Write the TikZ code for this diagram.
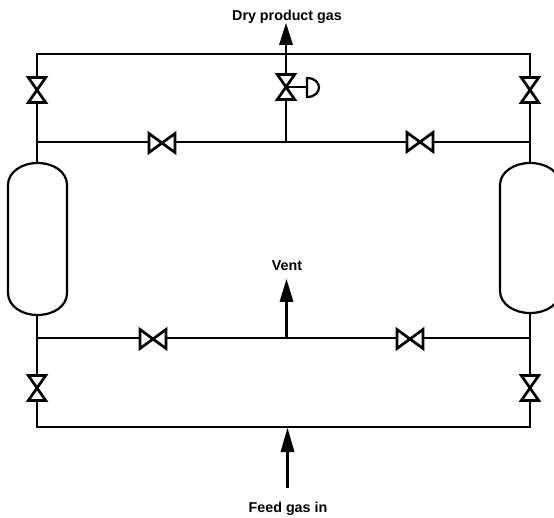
\documentclass[tikz,border=0pt]{standalone}
\usepackage{fontspec}
\setmainfont{Liberation Sans}
\begin{document}
\begin{tikzpicture}[x=1pt,y=-1pt,
  pipe/.style={line width=2.2pt,line join=miter},
  vesselline/.style={line width=2.2pt},
  bow/.style={line width=2.7pt,fill=white,line join=miter},
  head/.style={fill=black,draw=none},
  lbl/.style={font=\fontsize{14.3pt}{16pt}\selectfont\bfseries,inner sep=0pt}]
\useasboundingbox (0,0) rectangle (554,518);
\clip (0,0) rectangle (554,518);
% junction and valve positions
\coordinate (TL) at (37,54);
\coordinate (TR) at (530,54);
\coordinate (TC) at (286,54);
\coordinate (UL) at (37,142);
\coordinate (UR) at (530,142);
\coordinate (UC) at (286,142);
\coordinate (LL) at (37,338);
\coordinate (LR) at (530,338);
\coordinate (LC) at (286.5,338);
\coordinate (BL) at (37,427);
\coordinate (BR) at (530,427);
\coordinate (VTL) at (37,90);
\coordinate (VTR) at (530,90);
\coordinate (VTC) at (286,87);
\coordinate (VBL) at (37,388);
\coordinate (VBR) at (530,388);
\coordinate (VUL) at (162,143);
\coordinate (VUR) at (420,142);
\coordinate (VLL) at (153,339);
\coordinate (VLR) at (410,339);
\coordinate (DryTip) at (286,23);
\coordinate (VentTip) at (286.5,279);
\coordinate (FeedTail) at (287.5,488);
\coordinate (FeedTip) at (287.5,428);
\coordinate (Act) at (307,87);
% pipes
\draw[pipe] (UL) -- (TL) -- (TR) -- (UR);
\draw[pipe] (UL) -- (UR);
\draw[pipe] (LL) -- (LR);
\draw[pipe] (LL) -- (BL) -- (BR) -- (LR);
\draw[pipe] (UL) -- (37,164);
\draw[pipe] (UR) -- (530,164);
\draw[pipe] (LL) -- (37,314);
\draw[pipe] (LR) -- (530,314);
\draw[pipe] (UC) -- (TC) -- (286,40);
\draw[pipe] (LC) -- (286.5,298);
\draw[pipe] (FeedTail) -- (287.5,445);
% vessels
\draw[vesselline,fill=white] (8,185) .. controls (8,172) and (22,163) .. (37,163) .. controls (54,163) and (67,172) .. (67,185) -- (67,293) .. controls (67,306) and (54,315) .. (37,315) .. controls (22,315) and (8,306) .. (8,293) -- cycle;
\draw[vesselline,fill=white] (500,185) .. controls (500,172) and (514,163) .. (530,163) .. controls (547,163) and (560,172) .. (560,185) -- (560,291) .. controls (560,304) and (547,313) .. (530,313) .. controls (514,313) and (500,304) .. (500,291) -- cycle;
% vertical valves
\foreach \v in {VTL,VTR,VTC,VBL,VBR}{
  \draw[bow] ([shift={(-8.7,-12.5)}]\v) -- ([shift={(8.7,-12.5)}]\v) -- ([shift={(-8.7,12.5)}]\v) -- ([shift={(8.7,12.5)}]\v) -- cycle;
}
% horizontal valves
\foreach \v in {VUL,VUR,VLL,VLR}{
  \draw[bow] ([shift={(-13,-9.5)}]\v) -- ([shift={(13,9.5)}]\v) -- ([shift={(13,-9.5)}]\v) -- ([shift={(-13,9.5)}]\v) -- cycle;
}
% actuator
\draw[pipe] (VTC) -- (Act);
\draw[vesselline,fill=white] (307,78) -- (307,97) .. controls (315,97) and (319,92) .. (319,87.5) .. controls (319,83) and (315,78) .. (307,78) -- cycle;
% arrowheads
\fill[head] (DryTip) -- (293,45) -- (279,45) -- cycle;
\fill[head] (VentTip) -- (293.5,302) -- (279.5,302) -- cycle;
\fill[head] (FeedTip) -- (294.5,452) -- (280.5,452) -- cycle;
% labels
\node[lbl] (dry) at (287,17) {Dry product gas};
\node[lbl] (vent) at (287,266) {Vent};
\node[lbl] (feed) at (288,509) {Feed gas in};
\end{tikzpicture}
\end{document}
